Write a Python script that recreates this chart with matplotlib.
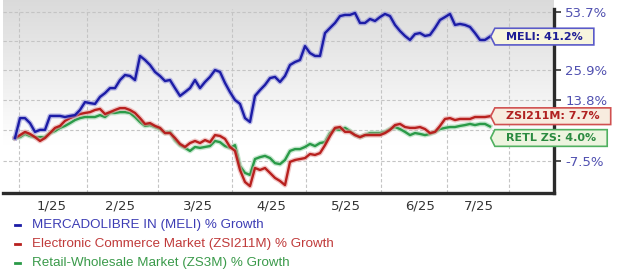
import numpy as np
import matplotlib
matplotlib.use("Agg")
import matplotlib.pyplot as plt
import matplotlib.patheffects as pe
from matplotlib.path import Path
from matplotlib.lines import Line2D

# % growth since start, one point per ~trading-day step
meli = [0.0, 7.0, 7.0, 5.2, 2.1, 2.8, 2.8, 7.8, 7.8, 7.8,
        7.4, 7.8, 8.1, 10.0, 13.0, 12.6, 12.3, 15.0, 16.5, 18.5,
        18.5, 21.8, 23.9, 23.5, 21.8, 32.2, 30.4, 28.2, 25.2, 23.5,
        21.4, 21.8, 18.5, 15.4, 16.9, 18.5, 21.8, 18.5, 21.0, 23.1,
        26.0, 25.2, 20.6, 16.9, 13.8, 12.3, 7.0, 5.6, 15.4, 17.7,
        19.8, 22.6, 23.1, 21.0, 23.5, 28.2, 29.5, 30.4, 36.7, 33.5,
        32.2, 32.2, 42.9, 45.4, 47.9, 51.4, 52.0, 52.0, 53.0, 47.9,
        47.9, 49.9, 48.9, 50.9, 52.5, 51.4, 46.9, 43.9, 41.5, 39.6,
        42.4, 42.9, 41.5, 42.0, 45.4, 49.4, 50.9, 52.5, 46.9, 47.4,
        46.9, 45.9, 42.9, 39.6, 39.6, 41.2]
ecom = [0.0, 1.0, 2.1, 1.4, 0.3, -1.0, 0.0, 1.7, 3.5, 4.2,
        6.0, 7.0, 7.8, 8.5, 8.9, 9.2, 10.0, 10.4, 8.5, 9.2,
        10.0, 10.7, 10.7, 10.0, 8.9, 7.0, 4.9, 5.2, 4.2, 3.5,
        1.7, 1.7, 0.0, -2.0, -3.0, -1.7, -1.0, -1.7, -0.7, -1.4,
        1.0, 0.7, -0.3, -3.0, -4.3, -10.3, -13.9, -15.1, -9.7, -10.3,
        -9.7, -11.2, -12.7, -13.6, -14.8, -7.8, -7.2, -6.9, -6.6, -5.3,
        -5.6, -5.0, -2.4, 0.7, 3.5, 3.8, 2.1, 2.1, 1.0, 0.3,
        1.0, 1.0, 1.0, 1.0, 1.7, 2.8, 4.5, 4.9, 3.8, 3.5,
        3.5, 3.8, 3.1, 1.7, 2.1, 4.2, 6.7, 7.0, 6.3, 6.7,
        6.7, 6.7, 7.4, 7.4, 7.4, 7.7]
retail = [0.0, 0.3, 1.4, 0.7, 0.3, 0.3, 0.3, 1.7, 2.4, 3.5,
          4.2, 5.2, 6.3, 7.0, 7.4, 7.4, 7.4, 8.1, 7.4, 8.9,
          8.9, 9.2, 9.2, 8.9, 7.4, 5.6, 4.2, 4.5, 3.8, 3.1,
          1.7, 2.1, -0.7, -2.4, -3.3, -4.3, -3.0, -3.3, -3.0, -2.7,
          -1.0, -1.4, -2.7, -3.3, -2.4, -9.1, -11.2, -11.8, -6.9, -6.3,
          -5.9, -6.6, -8.2, -8.5, -7.2, -4.3, -3.7, -3.7, -3.0, -2.0,
          -2.7, -1.7, -1.4, 1.7, 3.1, 2.8, 3.5, 2.4, 1.0, 0.3,
          1.0, 1.7, 1.7, 1.7, 2.1, 3.1, 3.8, 3.1, 2.1, 1.0,
          1.7, 1.4, 1.0, 1.4, 2.1, 3.1, 3.5, 3.8, 3.8, 4.2,
          4.5, 4.9, 4.5, 4.9, 4.9, 4.0]

month_edges = [0.8, 14.4, 28.6, 43.4, 58.2, 73.2, 86.4, 98.8]
month_pos = [7.4, 21.0, 36.6, 51.2, 66.2, 81.0, 92.8]
month_labels = ["1/25", "2/25", "3/25", "4/25", "5/25", "6/25", "7/25"]
# two of the six gridline labels sit behind the value tags
ytick_vals = [53.7, 39.1, 25.9, 13.8, 2.6, -7.5]
ytick_labels = ["53.7%", "", "25.9%", "13.8%", "", "-7.5%"]

names = ["MERCADOLIBRE IN (MELI) % Growth",
         "Electronic Commerce Market (ZSI211M) % Growth",
         "Retail-Wholesale Market (ZS3M) % Growth"]
tags = ["MELI: 41.2%", "ZSI211M: 7.7%", "RETL ZS: 4.0%"]
line_colors = ["#1c1ca6", "#b8201e", "#2a9a48"]
halo_colors = ["#8c8cd8", "#e7a0a0", "#a2d8b0"]
text_colors = ["#3c3cb4", "#c03a3a", "#3a9a4a"]
tag_text = ["#1e1e96", "#b02020", "#2a8a40"]
tag_fill = ["#f7f5de", "#f7ecdf", "#edf4df"]
tag_edge = ["#5a5ac8", "#d05050", "#50b060"]
tag_dy = [0, 0, -8.3]


def tag_box(x0, y0, width, height, mutation_scale):
    px, py = 1.0 * mutation_scale, 0.3 * mutation_scale
    x0, y0 = x0 - px, y0 - py
    x1, y1 = x0 + width + 2 * px, y0 + height + 2 * py
    tip = 0.25 * (y1 - y0)
    ym = (y0 + y1) / 2
    verts = [(x0, y0), (x1, y0), (x1, y1), (x0, y1), (x0 - tip, ym), (x0, y0), (x0, y0)]
    codes = [Path.MOVETO] + [Path.LINETO] * 5 + [Path.CLOSEPOLY]
    return Path(verts, codes)


fig = plt.figure(figsize=(6.2, 2.75), dpi=100)
ax = fig.add_axes([3 / 620, 82 / 275, 551 / 620, 184 / 275])
ax.set_yscale("function", functions=(lambda v: np.log1p(np.asarray(v) / 100.0),
                                     lambda t: 100.0 * np.expm1(t)))

# grey-to-white background
grad = np.linspace(0, 1, 200)[:, None]
shade = 0.855 + 0.145 * np.clip(grad / 0.75, 0, 1)
ax.imshow(np.dstack([shade, shade, shade]), extent=[0, 1, 0, 1.06], transform=ax.transAxes,
          aspect="auto", origin="upper", zorder=0, clip_on=False)

x = np.arange(len(meli))
for i, s in enumerate([meli, ecom, retail]):
    ax.plot(x, s, color=line_colors[i], lw=1.7, zorder=3 - i * 0.1,
            path_effects=[pe.Stroke(linewidth=3.6, foreground=halo_colors[i], alpha=0.6), pe.Normal()])
    ax.annotate(tags[i], xy=(x[-1], s[-1]), xytext=(11.5, tag_dy[i]), textcoords="offset points",
                ha="left", va="center", fontsize=8, fontweight="bold", color=tag_text[i],
                annotation_clip=False, zorder=10,
                bbox=dict(boxstyle=tag_box, fc=tag_fill[i], ec=tag_edge[i], lw=1.2))

ax.set_xlim(-2.4, 107.8)
ax.set_ylim(-17.06, 55.09)

ax.set_xticks(month_edges)
ax.set_xticklabels([])
ax.set_xticks(month_pos, minor=True)
ax.set_xticklabels(month_labels, minor=True)
ax.tick_params(axis="x", which="both", length=0)
ax.tick_params(axis="x", which="minor", pad=5, labelsize=9.5, labelcolor="#333333")

ax.yaxis.tick_right()
ax.set_yticks(ytick_vals)
ax.set_yticklabels(ytick_labels)
ax.yaxis.set_minor_locator(matplotlib.ticker.NullLocator())
ax.tick_params(axis="y", length=5, width=1.2, color="#333333", pad=3,
               labelsize=9.5, labelcolor="#5050b0")

ax.grid(True, which="major", ls=(0, (3, 2)), color="#c4c4c4", lw=0.8)
for side in ["left", "top"]:
    ax.spines[side].set_visible(False)
for side in ["right", "bottom"]:
    ax.spines[side].set_linewidth(2.4)
    ax.spines[side].set_color("#2b2b2b")

for i, name in enumerate(names):
    fy = 1 - (225 + 19 * i) / 275
    fig.add_artist(Line2D([15 / 620, 20 / 620], [fy, fy], color=line_colors[i], lw=2.0))
    fig.text(32 / 620, fy, name, color=text_colors[i], fontsize=9.6,
             family="Liberation Sans", va="center")

fig.savefig("out.png", dpi=100)
